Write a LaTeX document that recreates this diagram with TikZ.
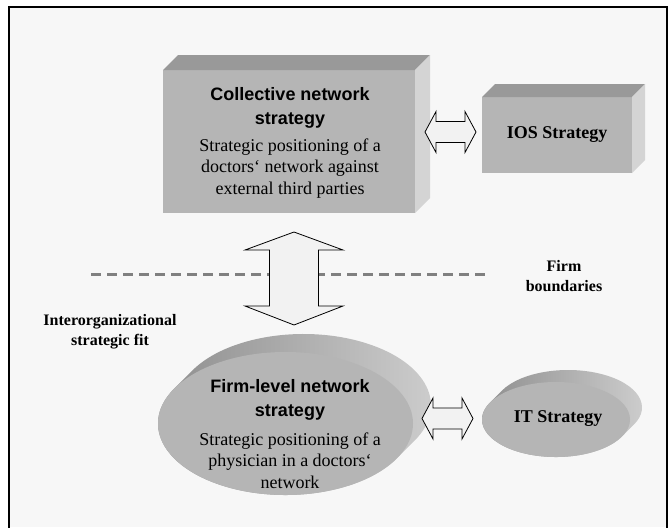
\documentclass[tikz,border=0pt]{standalone}
\usepackage{fontspec}
\setmainfont{Liberation Serif}
\setsansfont{Liberation Sans}
\usetikzlibrary{calc,shapes.geometric}

\definecolor{bg}{HTML}{F7F7F7}
\definecolor{face}{HTML}{B5B5B5}
\definecolor{topface}{HTML}{999999}
\definecolor{sideface}{HTML}{D4D4D4}
\definecolor{arrowfill}{HTML}{F2F2F2}
\definecolor{dashgray}{HTML}{808080}
\definecolor{rimdark}{HTML}{8A8A8A}
\definecolor{rimlight}{HTML}{D0D0D0}

\tikzset{
  frontface/.style={fill=face, draw=none, inner sep=0pt, outer sep=0pt},
  topside/.style={fill=topface, draw=none},
  rightside/.style={fill=sideface, draw=none},
  disc/.style={ellipse, fill=face, draw=none, inner sep=0pt, outer sep=0pt},
  blockarrow/.style={draw=black, line width=0.8pt, fill=arrowfill, line join=miter},
  titletext/.style={font=\sffamily\bfseries\fontsize{18}{24}\selectfont, align=center, inner sep=0pt},
  bodytext/.style={font=\fontsize{18}{21.5}\selectfont, align=center, inner sep=0pt},
  boxlabel/.style={font=\bfseries\fontsize{18}{22}\selectfont, align=center, inner sep=0pt},
  sidelabel/.style={font=\bfseries\fontsize{16}{20}\selectfont, align=center, inner sep=0pt},
  boundary/.style={dashgray, line width=3pt, dash pattern=on 10pt off 6pt},
}

\begin{document}
\begin{tikzpicture}[x=1pt, y=-1pt]
  \useasboundingbox (0,0) rectangle (668,527);
  \fill[white] (0,0) rectangle (668,527);
  \fill[bg] (9,7) rectangle (668,527);
  \draw[line width=2.5pt] (9,530) -- (9,7) -- (667,7) -- (667,530);

  % --- collective network strategy (3-D block) ---
  \node[frontface, minimum width=252pt, minimum height=143pt] (coll) at (289,141.5) {};
  \fill[topside] (coll.north west) -- ++(15,-15) -- ++(252,0) -- (coll.north east) -- cycle;
  \fill[rightside] (coll.north east) -- ++(15,-15) -- ++(0,143) -- (coll.south east) -- cycle;
  \node[titletext] (collT) at (290,108) {Collective network\\strategy};
  \node[bodytext] (collB) at (290,168.5) {Strategic positioning of a\\doctors‘ network against\\external third parties};

  % --- IOS strategy (3-D block) ---
  \node[frontface, minimum width=150pt, minimum height=76pt] (ios) at (557,135) {};
  \fill[topside] (ios.north west) -- ++(13,-13) -- ++(150,0) -- (ios.north east) -- cycle;
  \fill[rightside] (ios.north east) -- ++(13,-13) -- ++(0,76) -- (ios.south east) -- cycle;
  \node[boxlabel] (iosT) at (ios.center) {IOS Strategy};

  % --- firm boundary ---
  \coordinate (bL) at (91,274);
  \coordinate (bR) at (486,274);
  \draw[boundary] (bL) -- (bR);
  \node[sidelabel] (fb) at (564,276) {Firm\\boundaries};
  \node[sidelabel] (fit) at (110,332) {Interorganizational\\strategic fit};

  % --- firm-level network strategy (extruded disc) ---
  \coordinate (flc) at (285.5,423.5);
  \shade[left color=rimdark, right color=rimlight]
    ([shift={(-29.4:127.5pt and 71.5pt)}]flc)
    arc[start angle=-29.4, end angle=-209.4, x radius=127.5pt, y radius=71.5pt]
    -- ++(18pt,18pt)
    arc[start angle=150.6, end angle=-29.4, x radius=127.5pt, y radius=71.5pt]
    -- cycle;
  \node[disc, minimum width=255pt, minimum height=143pt] (fl) at (flc) {};
  \node[titletext] (flT) at (290,399.5) {Firm-level network\\strategy};
  \node[bodytext] (flB) at (290,460.5) {Strategic positioning of a\\physician in a doctors‘\\network};

  % --- IT strategy (extruded disc) ---
  \coordinate (itc) at (556,419.5);
  \shade[left color=rimdark, right color=rimlight]
    ([shift={(-26.9:74pt and 37.5pt)}]itc)
    arc[start angle=-26.9, end angle=-206.9, x radius=74pt, y radius=37.5pt]
    -- ++(12pt,12pt)
    arc[start angle=153.1, end angle=-26.9, x radius=74pt, y radius=37.5pt]
    -- cycle;
  \node[disc, minimum width=148pt, minimum height=75pt] (it) at (itc) {};
  \node[boxlabel] (itT) at (558,419) {IT Strategy};

  % --- block arrows ---
  % collective <-> IOS
  \draw[blockarrow] (425,132) -- (436,111.5) -- (436,121.5) -- (465,121.5) -- (465,111.5)
    -- (476,132) -- (465,152.5) -- (465,142.5) -- (436,142.5) -- (436,152.5) -- cycle;
  % collective <-> firm-level
  \draw[blockarrow] (294,232) -- (343,250) -- (318.5,250) -- (318.5,306) -- (343,306)
    -- (294,325) -- (245,306) -- (269.5,306) -- (269.5,250) -- (245,250) -- cycle;
  % firm-level <-> IT
  \draw[blockarrow] (422,418.5) -- (433,398) -- (433,408) -- (462,408) -- (462,398)
    -- (473,418.5) -- (462,439) -- (462,429) -- (433,429) -- (433,439) -- cycle;
\end{tikzpicture}
\end{document}
